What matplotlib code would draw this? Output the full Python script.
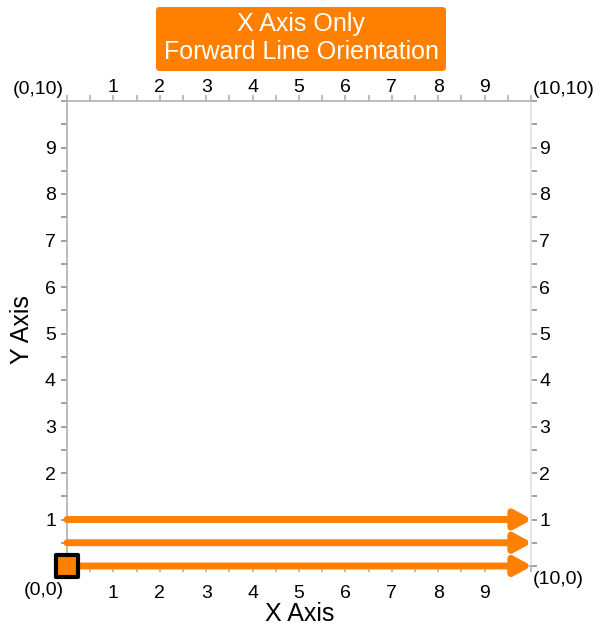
import matplotlib.pyplot as plt
from matplotlib.patches import FancyBboxPatch
from matplotlib.markers import MarkerStyle

plt.rcParams['font.family'] = ['Liberation Sans', 'DejaVu Sans']

orange = '#ff8000'
axis_gray = '#b0b0b0'

# data
line_y = [1, 0.5, 0]        # y of each forward line
line_x0 = [0, 0, 0]
line_x1 = [10, 10, 10]
major = list(range(0, 11))
tick_labels = [''] + [str(i) for i in range(1, 10)] + ['']
minor = [i + 0.5 for i in range(10)]
corners = [(0, 10, '(0,10)', 0.24), (10, 10, '(10,10)', 0.24),
           (0, 0, '(0,0)', -0.52), (10, 0, '(10,0)', -0.30)]

fig = plt.figure(figsize=(6.05, 6.27), dpi=100)
ax = fig.add_axes([67 / 605, 1 - 566 / 627, 464 / 605, 465 / 627])
ax.set_xlim(0, 10)
ax.set_ylim(0, 10)

for s in ax.spines.values():
    s.set_color(axis_gray)
    s.set_linewidth(1.2)
ax.spines['right'].set_color('#e0e0e0')

ax.set_xticks(major)
ax.set_xticklabels(tick_labels)
ax.set_yticks(major)
ax.set_yticklabels(tick_labels)
ax.set_xticks(minor, minor=True)
ax.set_yticks(minor, minor=True)
ax.tick_params(which='both', direction='out', color=axis_gray, width=1.2,
               length=4, labelsize=14, labelcolor='black',
               top=True, bottom=True, left=True, right=True,
               labeltop=True, labelbottom=True, labelleft=True, labelright=True)
ax.tick_params(axis='x', which='major', pad=2)
ax.tick_params(axis='y', which='major', pad=2)
ax.tick_params(axis='y', which='both', color='#909090')

for t in ax.xaxis.get_major_ticks():
    t.label1.set_y(-0.022)
    t.label2.set_y(0.992)
for t in ax.yaxis.get_major_ticks():
    t.label1.set_x(-0.006)

for y, x0, x1 in zip(line_y, line_x0, line_x1):
    ax.annotate('', xy=(x1 + 0.02, y), xytext=(x0, y), annotation_clip=False,
                arrowprops=dict(arrowstyle='-|>,head_length=1.0,head_width=0.55',
                                lw=5, color=orange, mutation_scale=10,
                                shrinkA=0, shrinkB=0, capstyle='round',
                                joinstyle='round'))

ax.plot([line_x0[-1]], [line_y[-1]], linestyle='none',
        marker=MarkerStyle('s', joinstyle='round'), markersize=16,
        markerfacecolor=orange, markeredgecolor='black', markeredgewidth=3,
        clip_on=False, zorder=5)

for cx, cy, txt, dy in corners:
    ha = 'right' if cx == 0 else 'left'
    dx = -0.065 if cx == 0 else 0.04
    ax.text(cx + dx, cy + dy, txt, ha=ha, va='center', fontsize=14,
            clip_on=False)

fig.text(300 / 605, 1 - 614 / 627, 'X Axis', fontsize=18, ha='center',
         va='center')
fig.text(22 / 605, 1 - 330 / 627, 'Y Axis', fontsize=18, ha='center',
         va='center', rotation=90)

box = FancyBboxPatch((156 / 605, 1 - 71 / 627), 290 / 605, 64 / 627,
                     boxstyle='round,pad=0,rounding_size=0.006',
                     transform=fig.transFigure, facecolor=orange,
                     edgecolor='none')
fig.patches.append(box)
fig.text(301 / 605, 1 - 24 / 627, 'X Axis Only', color='white', fontsize=18,
         ha='center', va='center')
fig.text(301 / 605, 1 - 52 / 627, 'Forward Line Orientation', color='white',
         fontsize=18, ha='center', va='center')

fig.savefig('out.png', dpi=100)
